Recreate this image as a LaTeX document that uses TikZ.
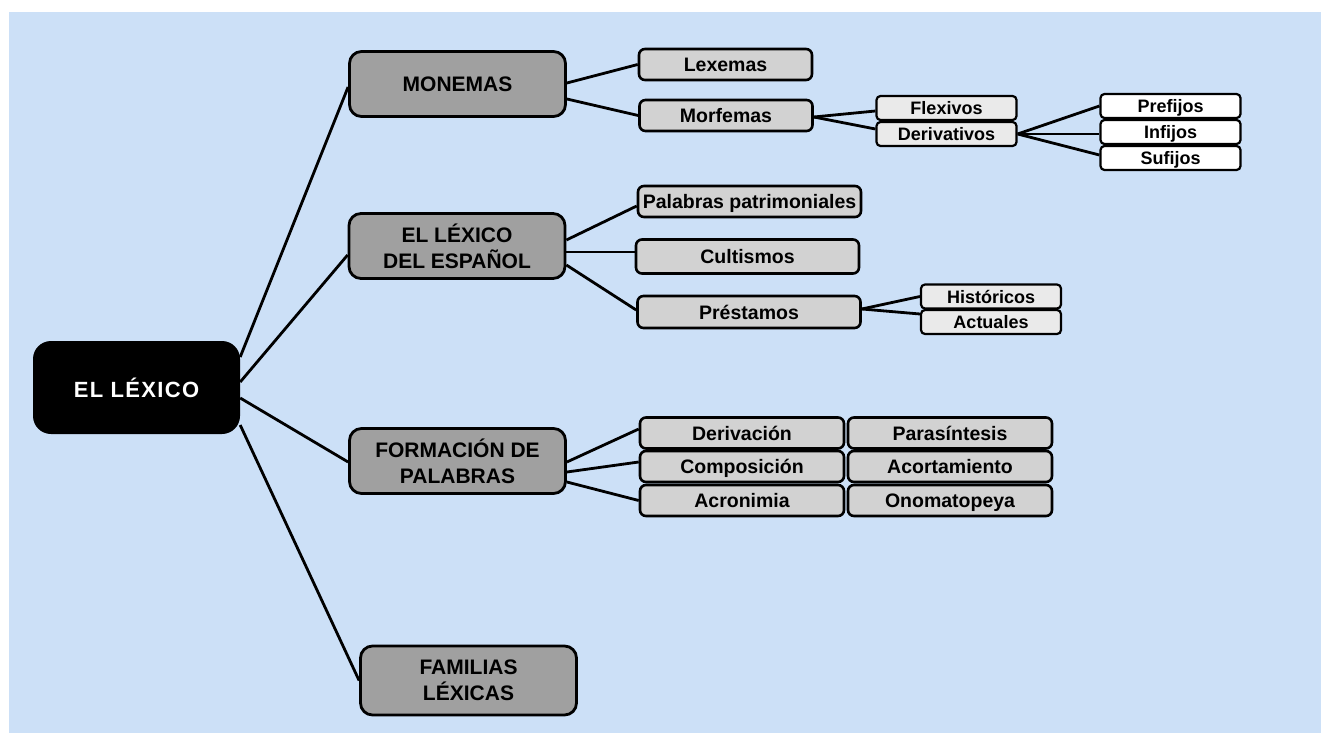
\documentclass[tikz,border=0pt]{standalone}
\usepackage{fontspec}
\setmainfont{Liberation Sans}
\usepackage{xcolor}
\usetikzlibrary{positioning}

\definecolor{bgblue}{HTML}{CCE0F7}
\definecolor{midgray}{HTML}{A0A0A0}
\definecolor{boxgray}{HTML}{D2D2D2}
\definecolor{palegray}{HTML}{EAEAEA}

\begin{document}
\begin{tikzpicture}[
    x=1pt, y=-1pt,
    root/.style={rectangle, rounded corners=18pt, fill=black, text=white, minimum width=207pt, minimum height=93pt, font=\fontsize{22}{26}\selectfont\bfseries\addfontfeature{LetterSpace=6}},
    topic/.style={rectangle, draw, line width=2.8pt, rounded corners=12pt, fill=midgray, minimum width=216pt, minimum height=65pt, align=center, font=\fontsize{21}{26}\selectfont\bfseries},
    item/.style={rectangle, draw, line width=2.6pt, rounded corners=6pt, fill=boxgray, minimum height=31pt, text height=14pt, text depth=0pt, font=\fontsize{19.5}{22}\selectfont\bfseries},
    sub/.style={rectangle, draw, line width=2.2pt, rounded corners=4pt, fill=palegray, minimum width=140pt, minimum height=24pt, inner sep=0pt, text height=13pt, text depth=0pt, font=\fontsize{18}{20}\selectfont\bfseries},
    leaf/.style={sub, fill=white},
    link/.style={line width=2.8pt}
]
\useasboundingbox (0,0) rectangle (1321,733);
\fill[bgblue] (9,12) rectangle (1321,733);

% Root
\node[root] (lexico) at (136.5,387.5) {EL LÉXICO};

% Monemas
\node[topic] (mon) at (457.5,84) {MONEMAS};
\node[item, minimum width=173pt] (lex) at (725.5,64.5) {Lexemas};
\node[item, minimum width=173pt] (morf) at (726,115.5) {Morfemas};
\node[sub] (flex) at (946.5,108) {Flexivos};
\node[sub] (deriv) at (946.5,134) {Derivativos};
\node[leaf] (pref) at (1170.5,106) {Prefijos};
\node[leaf] (inf) at (1170.5,132) {Infijos};
\node[leaf] (suf) at (1170.5,158) {Sufijos};

% Lexico del espanol
\node[topic] (esp) at (457,246) {EL LÉXICO\\DEL ESPAÑOL};
\node[item, minimum width=223pt] (pal) at (749.5,201.5) {Palabras patrimoniales};
\node[item, minimum width=223pt, minimum height=34pt] (cult) at (747.5,256.5) {Cultismos};
\node[item, minimum width=223pt, minimum height=32pt] (prest) at (749,312) {Préstamos};
\node[sub] (hist) at (991,296.5) {Históricos};
\node[sub] (act) at (991,322) {Actuales};

% Formacion de palabras
\node[topic] (form) at (457.5,461) {FORMACIÓN DE\\PALABRAS};
\node[item, minimum width=204pt] (der) at (742,433) {Derivación};
\node[item, minimum width=204pt] (comp) at (742,466.5) {Composición};
\node[item, minimum width=204pt] (acr) at (742,500.5) {Acronimia};
\node[item, minimum width=204pt] (para) at (950,433) {Parasíntesis};
\node[item, minimum width=204pt] (acort) at (950,466.5) {Acortamiento};
\node[item, minimum width=204pt] (onom) at (950,500.5) {Onomatopeya};

% Familias lexicas
\node[topic, minimum height=69pt] (fam) at (468.5,680.5) {FAMILIAS\\LÉXICAS};

% Links
\draw[link] ([yshift=30.5pt]lexico.east) -- ([yshift=-3pt]mon.west);
\draw[link] ([yshift=5.5pt]lexico.east) -- ([yshift=-9pt]esp.west);
\draw[link] ([yshift=-10.5pt]lexico.east) -- ([yshift=-1pt]form.west);
\draw[link] ([yshift=-37.5pt]lexico.east) -- (fam.west);

\draw[link] ([yshift=1pt]mon.east) -- (lex.west);
\draw[link] ([yshift=-15pt]mon.east) -- (morf.west);
\draw[link] ([yshift=-1.5pt]morf.east) -- ([yshift=-3pt]flex.west);
\draw[link] ([yshift=-1.5pt]morf.east) -- ([yshift=5pt]deriv.west);
\draw[link] (deriv.east) -- (pref.west);
\draw[link] (deriv.east) -- ([yshift=-2pt]inf.west);
\draw[link] (deriv.east) -- ([yshift=3pt]suf.west);

\draw[link] ([yshift=6pt]esp.east) -- ([yshift=-4.5pt]pal.west);
\draw[link] ([yshift=-6pt]esp.east) -- ([yshift=4.5pt]cult.west);
\draw[link] ([yshift=-19pt]esp.east) -- ([yshift=2pt]prest.west);
\draw[link] ([yshift=3pt]prest.east) -- (hist.west);
\draw[link] ([yshift=3pt]prest.east) -- ([yshift=8pt]act.west);

\draw[link] ([yshift=-1pt]form.east) -- ([yshift=4pt]der.west);
\draw[link] ([yshift=-11pt]form.east) -- ([yshift=4.5pt]comp.west);
\draw[link] ([yshift=-21pt]form.east) -- (acr.west);

\end{tikzpicture}
\end{document}
